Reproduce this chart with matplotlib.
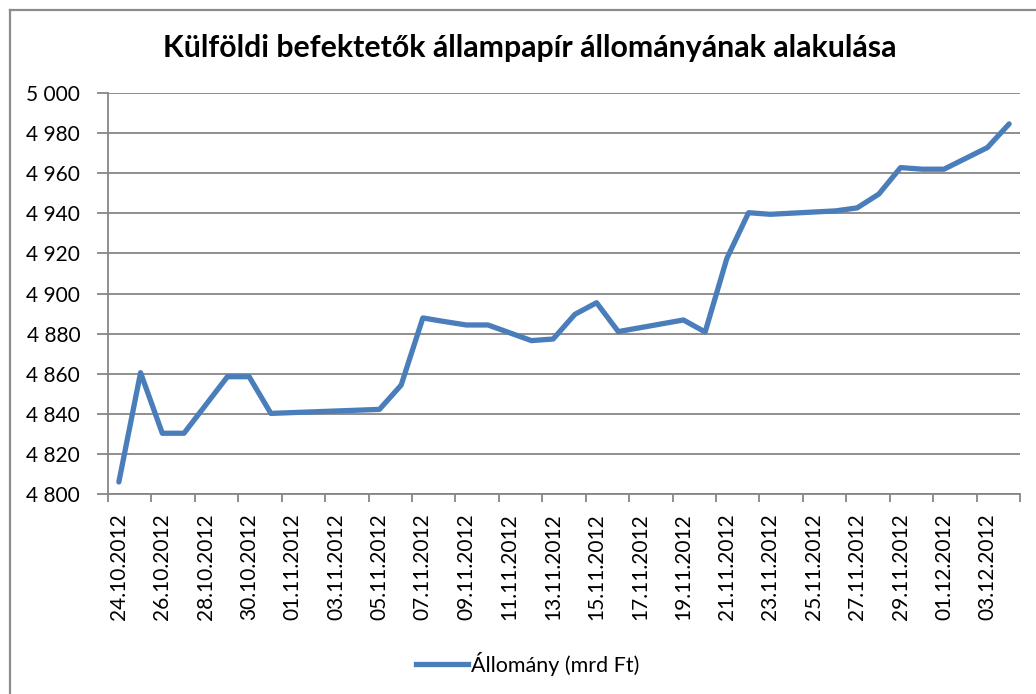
import matplotlib
matplotlib.use("Agg")
import matplotlib.pyplot as plt
from matplotlib.lines import Line2D
from matplotlib.ticker import FuncFormatter, FixedLocator
import pandas as pd

# ---- data ----
dates = ["2012-10-24", "2012-10-25", "2012-10-26", "2012-10-27", "2012-10-29",
         "2012-10-30", "2012-10-31", "2012-11-05", "2012-11-06", "2012-11-07",
         "2012-11-08", "2012-11-09", "2012-11-10", "2012-11-12", "2012-11-13",
         "2012-11-14", "2012-11-15", "2012-11-16", "2012-11-19", "2012-11-20",
         "2012-11-21", "2012-11-22", "2012-11-23", "2012-11-26", "2012-11-27",
         "2012-11-28", "2012-11-29", "2012-11-30", "2012-12-01", "2012-12-03",
         "2012-12-04"]
values = [4806, 4860.5, 4830.3, 4830.3, 4858.5,
          4858.5, 4840.2, 4842.2, 4854.3, 4887.8,
          4886.0, 4884.3, 4884.3, 4876.5, 4877.3,
          4889.6, 4895.4, 4881.0, 4886.8, 4880.8,
          4917.5, 4940.3, 4939.5, 4941.2, 4942.7,
          4949.6, 4962.8, 4962.0, 4962.0, 4972.8,
          4984.6]
tick_labels = ["24.10.2012", "26.10.2012", "28.10.2012", "30.10.2012", "01.11.2012",
               "03.11.2012", "05.11.2012", "07.11.2012", "09.11.2012", "11.11.2012",
               "13.11.2012", "15.11.2012", "17.11.2012", "19.11.2012", "21.11.2012",
               "23.11.2012", "25.11.2012", "27.11.2012", "29.11.2012", "01.12.2012",
               "03.12.2012"]
series_name = "Állomány (mrd Ft)"
title = "Külföldi befektetők állampapír állományának alakulása"

# ---- layout ----
W, H = 1036, 694
plt.rcParams['font.family'] = ['Lato', 'DejaVu Sans']
fig = plt.figure(figsize=(W / 100, H / 100), dpi=100)
fig.patch.set_facecolor("white")

ax_l, ax_r, ax_t, ax_b = 108, 1020, 93, 494
ax = fig.add_axes([ax_l / W, 1 - ax_b / H, (ax_r - ax_l) / W, (ax_b - ax_t) / H])

start = pd.Timestamp(dates[0])
end = pd.Timestamp(dates[-1])
ndays = (end - start).days + 1
x = [(pd.Timestamp(d) - start).days + 0.5 for d in dates]

line_color = "#4A7EBB"
grid_color = "#868686"

ax.plot(x, values, color=line_color, lw=3.8, solid_joinstyle="round",
        solid_capstyle="round", label=series_name, zorder=3)

ax.set_xlim(0, ndays)
ax.set_ylim(4800, 5000)
ax.set_yticks(range(4800, 5001, 20))
ax.yaxis.set_major_formatter(FuncFormatter(lambda v, p: f"{int(v):,}".replace(",", " ")))
ax.grid(axis="y", color=grid_color, lw=1.3)
ax.set_axisbelow(True)

# x ticks: marks every 2 days at bin edges, labels centered on the day
ax.xaxis.set_major_locator(FixedLocator(list(range(0, ndays + 1, 2))))
ax.xaxis.set_major_formatter(FuncFormatter(lambda v, p: ""))
ax.xaxis.set_minor_locator(FixedLocator([i + 0.5 for i in range(0, ndays, 2)]))
ax.set_xticklabels(tick_labels, minor=True, rotation=90, fontsize=15, color="black")
ax.tick_params(axis="x", which="minor", length=0, pad=14)
ax.tick_params(axis="x", which="major", length=6, width=1.3, color=grid_color, direction="out")
ax.tick_params(axis="y", length=8, width=1.3, color=grid_color, direction="out",
               labelsize=15, pad=12)

for s in ["top", "right"]:
    ax.spines[s].set_visible(False)
for s in ["left", "bottom"]:
    ax.spines[s].set_color(grid_color)
    ax.spines[s].set_linewidth(1.3)

fig.text(530 / W, 1 - 48 / H, title, ha="center", va="center",
         fontsize=21.8, fontweight="bold")

fig.legend(handles=[Line2D([], [], color=line_color, lw=3.8)], labels=[series_name],
           loc="center", bbox_to_anchor=(528 / W, 1 - 664 / H), frameon=False,
           fontsize=15.5, handlelength=2.4, handletextpad=0.15)

# chart area border (left and top visible)
fig.add_artist(Line2D([10 / W, 10 / W], [0, 1 - 10 / H], transform=fig.transFigure,
                      color="#8C8C8C", lw=1.6))
fig.add_artist(Line2D([10 / W, 1], [1 - 10 / H, 1 - 10 / H], transform=fig.transFigure,
                      color="#8C8C8C", lw=1.6))

fig.savefig("out.png", dpi=100)
